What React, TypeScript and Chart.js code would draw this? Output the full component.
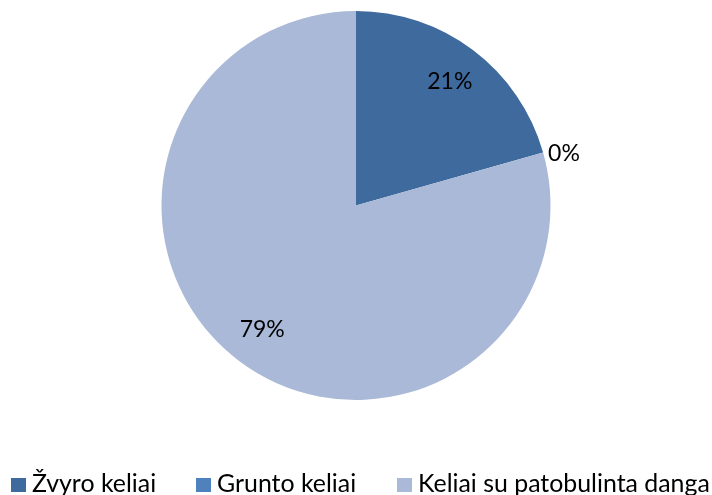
import React, { useEffect, useRef } from "react";
import { Chart, registerables } from "chart.js";

Chart.register(...registerables);

const categories = ["Žvyro keliai", "Grunto keliai", "Keliai su patobulinta danga"];
const values = [20.6, 0, 79.4];
const percentLabels = ["21%", "0%", "79%"];
const colors = ["#3E6A9D", "#4F81BD", "#AAB9D7"];
const legendStarts = [11, 196, 397];

const labelPlugin = {
  id: "pctLabels",
  afterDatasetsDraw(chart: any) {
    const ctx = chart.ctx;
    const meta = chart.getDatasetMeta(0);
    ctx.save();
    ctx.font = "23px Lato";
    ctx.fillStyle = "#000";
    ctx.textBaseline = "middle";
    meta.data.forEach((arc: any, i: number) => {
      const { x, y, startAngle, endAngle, outerRadius } = arc.getProps(
        ["x", "y", "startAngle", "endAngle", "outerRadius"],
        true
      );
      const mid = (startAngle + endAngle) / 2;
      if (values[i] === 0) {
        ctx.textAlign = "left";
        ctx.fillText(percentLabels[i], x + Math.cos(mid) * outerRadius + 5, y + Math.sin(mid) * outerRadius + 1);
      } else {
        const r = outerRadius * 0.8;
        ctx.textAlign = "center";
        ctx.fillText(percentLabels[i], x + Math.cos(mid) * r, y + Math.sin(mid) * r);
      }
    });
    // legend
    let size = 26;
    ctx.font = `${size}px Lato`;
    const last = categories.length - 1;
    const avail = chart.width - 2 - (legendStarts[last] + 21);
    const w = ctx.measureText(categories[last]).width;
    if (w > avail) size = (size * avail) / w;
    ctx.font = `${size}px Lato`;
    ctx.textAlign = "left";
    ctx.textBaseline = "alphabetic";
    categories.forEach((c, i) => {
      const bx = legendStarts[i];
      ctx.fillStyle = colors[i];
      ctx.fillRect(bx, 478, 15, 14);
      ctx.fillStyle = "#000";
      ctx.fillText(c, bx + 21, 492);
    });
    ctx.restore();
  },
};

export default function App() {
  const ref = useRef<HTMLCanvasElement>(null);
  useEffect(() => {
    document.body.style.margin = "0";
    const chart = new Chart(ref.current!, {
      type: "pie",
      data: {
        labels: categories,
        datasets: [
          {
            data: values,
            backgroundColor: colors,
            borderWidth: 0,
          },
        ],
      },
      options: {
        animation: false,
        responsive: false,
        layout: { padding: { top: 11, bottom: 95 } },
        plugins: {
          tooltip: { enabled: false },
          legend: { display: false },
        },
      },
      plugins: [labelPlugin],
    });
    return () => chart.destroy();
  }, []);
  return (
    <div style={{ width: 712, height: 495, background: "#fff" }}>
      <canvas ref={ref} width={712} height={495} />
    </div>
  );
}
